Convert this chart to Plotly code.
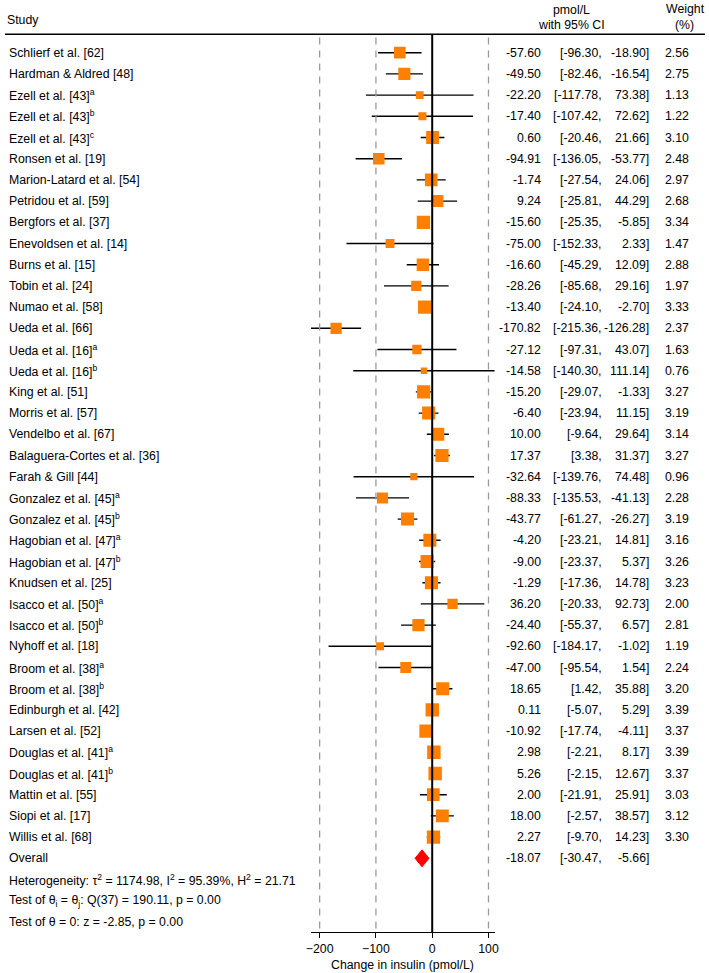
import plotly.graph_objects as go

# study rows, top to bottom
studies = [
    "Schlierf et al. [62]", "Hardman & Aldred [48]", "Ezell et al. [43]<sup>a</sup>",
    "Ezell et al. [43]<sup>b</sup>", "Ezell et al. [43]<sup>c</sup>", "Ronsen et al. [19]",
    "Marion-Latard et al. [54]", "Petridou et al. [59]", "Bergfors et al. [37]",
    "Enevoldsen et al. [14]", "Burns et al. [15]", "Tobin et al. [24]",
    "Numao et al. [58]", "Ueda et al. [66]", "Ueda et al. [16]<sup>a</sup>",
    "Ueda et al. [16]<sup>b</sup>", "King et al. [51]", "Morris et al. [57]",
    "Vendelbo et al. [67]", "Balaguera-Cortes et al. [36]", "Farah & Gill [44]",
    "Gonzalez et al. [45]<sup>a</sup>", "Gonzalez et al. [45]<sup>b</sup>",
    "Hagobian et al. [47]<sup>a</sup>", "Hagobian et al. [47]<sup>b</sup>",
    "Knudsen et al. [25]", "Isacco et al. [50]<sup>a</sup>", "Isacco et al. [50]<sup>b</sup>",
    "Nyhoff et al. [18]", "Broom et al. [38]<sup>a</sup>", "Broom et al. [38]<sup>b</sup>",
    "Edinburgh et al. [42]", "Larsen et al. [52]", "Douglas et al. [41]<sup>a</sup>",
    "Douglas et al. [41]<sup>b</sup>", "Mattin et al. [55]", "Siopi et al. [17]",
    "Willis et al. [68]",
]
est = [-57.60, -49.50, -22.20, -17.40, 0.60, -94.91, -1.74, 9.24, -15.60, -75.00,
       -16.60, -28.26, -13.40, -170.82, -27.12, -14.58, -15.20, -6.40, 10.00, 17.37,
       -32.64, -88.33, -43.77, -4.20, -9.00, -1.29, 36.20, -24.40, -92.60, -47.00,
       18.65, 0.11, -10.92, 2.98, 5.26, 2.00, 18.00, 2.27]
lower = [-96.30, -82.46, -117.78, -107.42, -20.46, -136.05, -27.54, -25.81, -25.35, -152.33,
         -45.29, -85.68, -24.10, -215.36, -97.31, -140.30, -29.07, -23.94, -9.64, 3.38,
         -139.76, -135.53, -61.27, -23.21, -23.37, -17.36, -20.33, -55.37, -184.17, -95.54,
         1.42, -5.07, -17.74, -2.21, -2.15, -21.91, -2.57, -9.70]
upper = [-18.90, -16.54, 73.38, 72.62, 21.66, -53.77, 24.06, 44.29, -5.85, 2.33,
         12.09, 29.16, -2.70, -126.28, 43.07, 111.14, -1.33, 11.15, 29.64, 31.37,
         74.48, -41.13, -26.27, 14.81, 5.37, 14.78, 92.73, 6.57, -1.02, 1.54,
         35.88, 5.29, -4.11, 8.17, 12.67, 25.91, 38.57, 14.23]
weight = [2.56, 2.75, 1.13, 1.22, 3.10, 2.48, 2.97, 2.68, 3.34, 1.47,
          2.88, 1.97, 3.33, 2.37, 1.63, 0.76, 3.27, 3.19, 3.14, 3.27,
          0.96, 2.28, 3.19, 3.16, 3.26, 3.23, 2.00, 2.81, 1.19, 2.24,
          3.20, 3.39, 3.37, 3.39, 3.37, 3.03, 3.12, 3.30]

overall = [-18.07, -30.47, -5.66]
stats_lines = [
    "Heterogeneity: τ<sup>2</sup> = 1174.98, I<sup>2</sup> = 95.39%, H<sup>2</sup> = 21.71",
    "Test of θ<sub>i</sub> = θ<sub>j</sub>: Q(37) = 190.11, p = 0.00",
    "Test of θ = 0: z = -2.85, p = 0.00",
]
xticks = [-200, -100, 0, 100]

W, H = 709, 973
FONT = "Arial, Liberation Sans, sans-serif"
FS = 12.3
n = len(studies)
rows = list(range(n))
r_overall = n

# pixel geometry of the plot area
x_lo, x_hi = -215.36, 111.14
x0_px = 432.7 + x_lo * 0.57
x1_px = 432.7 + x_hi * 0.57
row0, step = 52.7, 21.2
axis_px = 932
r_top = (0 - row0) / step
r_bot = (axis_px - row0) / step
r_header = (34.3 - row0) / step


def px(x):
    return x / W


fig = go.Figure()

# reference lines
for t in [-200, -100, 100]:
    fig.add_shape(type="line", xref="x", yref="y", x0=t, x1=t,
                  y0=r_header + 0.15, y1=r_bot,
                  line=dict(color="#9a9a9a", width=1.3, dash="7px,6px"))
fig.add_shape(type="line", xref="x", yref="y", x0=0, x1=0, y0=r_header, y1=r_bot,
              line=dict(color="black", width=2))
fig.add_shape(type="line", xref="paper", yref="y", x0=0, x1=1, y0=r_header, y1=r_header,
              line=dict(color="black", width=1.6))

# confidence intervals
cx, cy = [], []
for lo, hi, r in zip(lower, upper, rows):
    cx += [lo, hi, None]
    cy += [r, r, None]
fig.add_trace(go.Scatter(x=cx, y=cy, mode="lines", line=dict(color="black", width=1.4),
                         hoverinfo="skip", showlegend=False))

# weighted boxes (area proportional to weight)
fig.add_trace(go.Scatter(
    x=est, y=rows, mode="markers", showlegend=False,
    marker=dict(symbol="square", size=weight, sizemode="area", sizeref=2 / 7.3 ** 2,
                color="#ff8000", opacity=1, line=dict(width=0)),
))

# overall diamond
d = 0.4
fig.add_trace(go.Scatter(
    x=[overall[1], overall[0], overall[2], overall[0], overall[1]],
    y=[r_overall, r_overall - d, r_overall, r_overall + d, r_overall],
    mode="lines", fill="toself", fillcolor="#ff0000", line=dict(color="#ff0000", width=1),
    showlegend=False, hoverinfo="skip",
))

ann = []


def txt(x, y, s, anchor="left", yref="y"):
    ann.append(dict(x=x, y=y, xref="paper", yref=yref, text=s, showarrow=False,
                    xanchor=anchor, yanchor="middle",
                    font=dict(family=FONT, size=FS, color="black")))


# headers
txt(px(0), 1 - 20 / H, "Study", yref="paper")
txt(px(574), 1 - 10 / H, "pmol/L", "center", "paper")
txt(px(574), 1 - 25 / H, "with 95% CI", "center", "paper")
txt(px(689), 1 - 9 / H, "Weight", "center", "paper")
txt(px(688), 1 - 25 / H, "(%)", "center", "paper")

for r, s, e, lo, hi, w in zip(rows, studies, est, lower, upper, weight):
    txt(px(2), r, s)
    txt(px(545), r, f"{e:.2f}", "right")
    txt(px(607), r, f"[{lo:.2f},", "right")
    txt(px(654), r, f"{hi:.2f}]", "right")
    txt(px(695), r, f"{w:.2f}", "right")

txt(px(2), r_overall, "Overall")
txt(px(545), r_overall, f"{overall[0]:.2f}", "right")
txt(px(607), r_overall, f"[{overall[1]:.2f},", "right")
txt(px(654), r_overall, f"{overall[2]:.2f}]", "right")
for i, s in enumerate(stats_lines):
    txt(px(2), r_overall + 1 + i, s)

# axis title
ann.append(dict(x=0.5, y=1 - 965 / H, xref="x domain", yref="paper", showarrow=False,
                text="Change in insulin (pmol/L)", xanchor="center", yanchor="middle",
                font=dict(family=FONT, size=FS, color="black")))

fig.update_layout(
    width=W, height=H, margin=dict(l=0, r=0, t=0, b=0),
    paper_bgcolor="white", plot_bgcolor="white",
    font=dict(family=FONT, size=FS, color="black"),
    annotations=ann, showlegend=False,
    xaxis=dict(domain=[x0_px / W, x1_px / W], range=[x_lo, x_hi], tickvals=xticks,
               showgrid=False, zeroline=False, showline=True, linecolor="black",
               linewidth=1.2, ticks="outside", ticklen=5, tickcolor="black",
               tickfont=dict(family=FONT, size=FS, color="black")),
    yaxis=dict(domain=[(H - axis_px) / H, 1], range=[r_bot, r_top], visible=False,
               showgrid=False, zeroline=False),
)

# page body has a default 8px margin; drop it so the figure sits at the window corner
fig.write_html("out.html", config={"displayModeBar": False},
               post_script="document.body.style.margin='0px';")
